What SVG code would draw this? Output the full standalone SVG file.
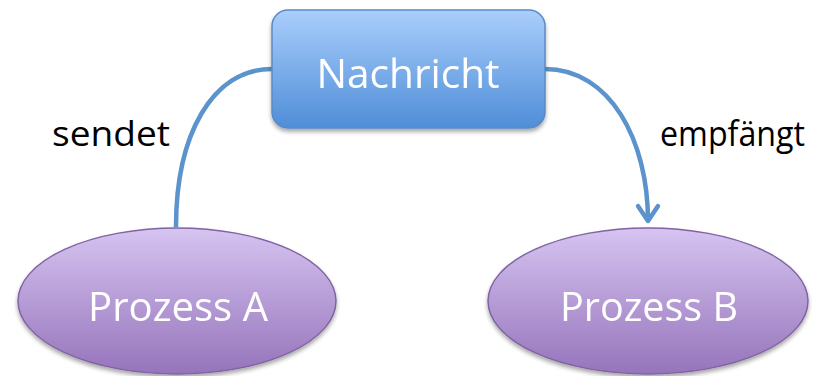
<svg xmlns="http://www.w3.org/2000/svg" width="836" height="376" viewBox="0 0 836 376">
<style>
.node-text{font-family:"Open Sans","Noto Sans",sans-serif;font-size:40px;fill:#ffffff;text-anchor:middle}
.label{font-family:"Open Sans","Noto Sans",sans-serif;font-size:34px;fill:#000000}
.conn{fill:none;stroke:#5b93cc;stroke-width:4.5}
.ell{fill:url(#gPurple);stroke:#8064a2;stroke-width:1.5}
</style>
<defs>
<linearGradient id="gBlue" x1="0" y1="0" x2="0" y2="1">
<stop offset="0" stop-color="#aacefc"/>
<stop offset="1" stop-color="#4f8ed8"/>
</linearGradient>
<linearGradient id="gPurple" x1="0" y1="0" x2="0" y2="1">
<stop offset="0" stop-color="#d6c4f1"/>
<stop offset="1" stop-color="#9674bb"/>
</linearGradient>
<filter id="sh" x="-10%" y="-10%" width="120%" height="130%">
<feGaussianBlur in="SourceAlpha" stdDeviation="2"/>
<feOffset dx="0" dy="3"/>
<feComponentTransfer><feFuncA type="linear" slope="0.35"/></feComponentTransfer>
<feMerge><feMergeNode/><feMergeNode in="SourceGraphic"/></feMerge>
</filter>
</defs>
<g id="connectors">
<path class="conn" d="M176,227 C176,135 212,69 272,69"/>
<path class="conn" d="M545,69 C610,69 648,140 648,221"/>
<path class="conn" d="M638,206 L648,221 L658,206" stroke-linecap="round" stroke-linejoin="round"/>
</g>
<g id="label-sendet"><text class="label" x="52" y="146" textLength="118" lengthAdjust="spacingAndGlyphs">sendet</text></g>
<g id="label-empfaengt"><text class="label" x="660" y="146" textLength="145" lengthAdjust="spacingAndGlyphs">empfängt</text></g>
<g id="nachricht" filter="url(#sh)">
<rect x="272" y="10" width="273" height="118" rx="16" ry="16" fill="url(#gBlue)" stroke="#5a8ac6" stroke-width="1.5"/>
<text class="node-text" x="408" y="88" textLength="183" lengthAdjust="spacingAndGlyphs">Nachricht</text>
</g>
<g id="prozessA" filter="url(#sh)">
<ellipse class="ell" cx="177" cy="301" rx="159" ry="73"/>
<text class="node-text" x="178" y="321" textLength="180" lengthAdjust="spacingAndGlyphs">Prozess A</text>
</g>
<g id="prozessB" filter="url(#sh)">
<ellipse class="ell" cx="648" cy="301" rx="160" ry="73"/>
<text class="node-text" x="649" y="321" textLength="178" lengthAdjust="spacingAndGlyphs">Prozess B</text>
</g>
</svg>
